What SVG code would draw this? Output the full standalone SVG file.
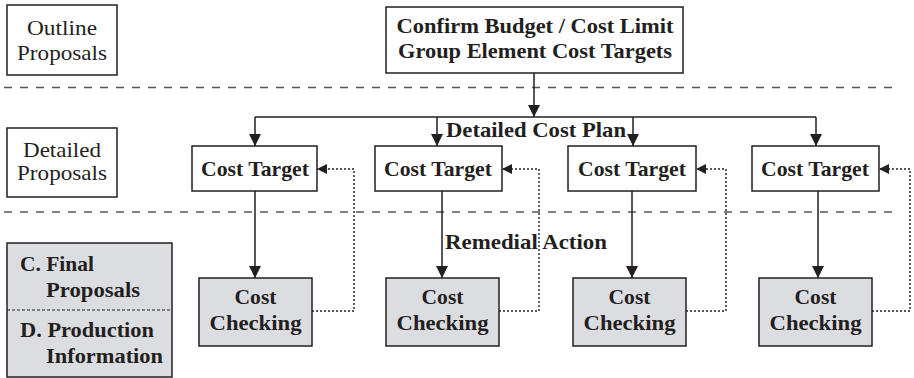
<svg xmlns="http://www.w3.org/2000/svg" width="914" height="378" viewBox="0 0 914 378">
  <defs>
    <marker id="arrow" viewBox="0 0 12 12" refX="12" refY="6" markerWidth="12" markerHeight="12" markerUnits="userSpaceOnUse" orient="auto">
      <path d="M0,0 L12,6 L0,12 z" fill="#231f20"/>
    </marker>
    <marker id="arrow-small" viewBox="0 0 10 10" refX="10" refY="5" markerWidth="10" markerHeight="10" markerUnits="userSpaceOnUse" orient="auto">
      <path d="M0,0 L10,5 L0,10 z" fill="#231f20"/>
    </marker>
  </defs>
  <style>
    .box { fill: #ffffff; stroke: #231f20; stroke-width: 1.5; }
    .grey { fill: #dcdde0; stroke: #231f20; stroke-width: 1.5; }
    .t { font-family: "Liberation Serif", "Times New Roman", serif; font-size: 21px; fill: #231f20; }
    .b { font-weight: bold; }
    .c { text-anchor: middle; }
    .stage { fill: none; stroke: #555555; stroke-width: 1.4; stroke-dasharray: 8 8; }
    .flow { fill: none; stroke: #231f20; stroke-width: 1.5; marker-end: url(#arrow); }
    .bus { fill: none; stroke: #231f20; stroke-width: 1.5; }
    .fb { fill: none; stroke: #231f20; stroke-width: 1.4; stroke-dasharray: 2 2; marker-end: url(#arrow-small); }
  </style>
  <rect width="914" height="378" fill="#ffffff"/>

  <!-- stage separators -->
  <g id="stage-lines">
    <line class="stage" x1="4" y1="87.5" x2="900" y2="87.5"/>
    <line class="stage" x1="4" y1="212" x2="900" y2="212"/>
  </g>

  <!-- stage labels -->
  <g id="stage-outline">
    <rect class="box" x="7" y="5" width="110" height="70"/>
    <text class="t c" x="62" y="35" textLength="70" lengthAdjust="spacingAndGlyphs">Outline</text>
    <text class="t c" x="62" y="60" textLength="90" lengthAdjust="spacingAndGlyphs">Proposals</text>
  </g>
  <g id="stage-detailed">
    <rect class="box" x="7" y="128" width="110" height="69"/>
    <text class="t c" x="62" y="157" textLength="78" lengthAdjust="spacingAndGlyphs">Detailed</text>
    <text class="t c" x="62" y="180" textLength="90" lengthAdjust="spacingAndGlyphs">Proposals</text>
  </g>
  <g id="stage-final">
    <rect class="grey" x="7" y="243" width="165" height="134"/>
    <line x1="7" y1="310" x2="172" y2="310" stroke="#231f20" stroke-width="1.2" stroke-dasharray="3 2"/>
    <text class="t b" x="20" y="271" textLength="74" lengthAdjust="spacingAndGlyphs">C. Final</text>
    <text class="t b" x="46" y="297" textLength="94" lengthAdjust="spacingAndGlyphs">Proposals</text>
    <text class="t b" x="20" y="337" textLength="134" lengthAdjust="spacingAndGlyphs">D. Production</text>
    <text class="t b" x="46" y="363" textLength="117" lengthAdjust="spacingAndGlyphs">Information</text>
  </g>

  <!-- budget node -->
  <g id="budget">
    <rect class="box" x="386" y="7" width="297" height="66"/>
    <text class="t b c" x="535" y="33" textLength="277" lengthAdjust="spacingAndGlyphs">Confirm Budget / Cost Limit</text>
    <text class="t b c" x="535" y="58" textLength="274" lengthAdjust="spacingAndGlyphs">Group Element Cost Targets</text>
  </g>

  <!-- cost targets -->
  <g id="target-1">
    <rect class="box" x="192" y="146" width="125" height="45"/>
    <text class="t b c" x="255" y="176" textLength="108" lengthAdjust="spacingAndGlyphs">Cost Target</text>
  </g>
  <g id="target-2">
    <rect class="box" x="375" y="146" width="127" height="45"/>
    <text class="t b c" x="438" y="176" textLength="108" lengthAdjust="spacingAndGlyphs">Cost Target</text>
  </g>
  <g id="target-3">
    <rect class="box" x="568" y="146" width="128" height="45"/>
    <text class="t b c" x="632" y="176" textLength="108" lengthAdjust="spacingAndGlyphs">Cost Target</text>
  </g>
  <g id="target-4">
    <rect class="box" x="752" y="146" width="127" height="45"/>
    <text class="t b c" x="815" y="176" textLength="108" lengthAdjust="spacingAndGlyphs">Cost Target</text>
  </g>

  <!-- cost checks -->
  <g id="check-1">
    <rect class="grey" x="199" y="278" width="113" height="68"/>
    <text class="t b c" x="255.5" y="304" textLength="42" lengthAdjust="spacingAndGlyphs">Cost</text>
    <text class="t b c" x="255.5" y="330" textLength="92" lengthAdjust="spacingAndGlyphs">Checking</text>
  </g>
  <g id="check-2">
    <rect class="grey" x="386" y="278" width="113" height="68"/>
    <text class="t b c" x="442.5" y="304" textLength="42" lengthAdjust="spacingAndGlyphs">Cost</text>
    <text class="t b c" x="442.5" y="330" textLength="92" lengthAdjust="spacingAndGlyphs">Checking</text>
  </g>
  <g id="check-3">
    <rect class="grey" x="573" y="278" width="113" height="68"/>
    <text class="t b c" x="629.5" y="304" textLength="42" lengthAdjust="spacingAndGlyphs">Cost</text>
    <text class="t b c" x="629.5" y="330" textLength="92" lengthAdjust="spacingAndGlyphs">Checking</text>
  </g>
  <g id="check-4">
    <rect class="grey" x="759" y="278" width="113" height="68"/>
    <text class="t b c" x="815.5" y="304" textLength="42" lengthAdjust="spacingAndGlyphs">Cost</text>
    <text class="t b c" x="815.5" y="330" textLength="92" lengthAdjust="spacingAndGlyphs">Checking</text>
  </g>

  <!-- connectors -->
  <g id="connectors">
    <line class="flow" x1="534" y1="73" x2="534" y2="117"/>
    <line class="bus" x1="255" y1="117" x2="816" y2="117"/>
    <line class="flow" x1="255" y1="117" x2="255" y2="146"/>
    <line class="flow" x1="437" y1="117" x2="437" y2="146"/>
    <line class="flow" x1="633" y1="117" x2="633" y2="146"/>
    <line class="flow" x1="816" y1="117" x2="816" y2="146"/>

    <line class="flow" x1="255" y1="191" x2="255" y2="278"/>
    <line class="flow" x1="442" y1="191" x2="442" y2="278"/>
    <line class="flow" x1="632" y1="191" x2="632" y2="278"/>
    <line class="flow" x1="818" y1="191" x2="818" y2="278"/>

    <polyline class="fb" points="312,311 354,311 354,169 317,169"/>
    <polyline class="fb" points="499,311 539,311 539,169 502,169"/>
    <polyline class="fb" points="686,311 726,311 726,169 696,169"/>
    <polyline class="fb" points="872,311 910,311 910,169 879,169"/>

    <text class="t b" x="446" y="137" textLength="180" lengthAdjust="spacingAndGlyphs">Detailed Cost Plan</text>
    <text class="t b" x="445" y="249" textLength="162" lengthAdjust="spacingAndGlyphs">Remedial Action</text>
  </g>
</svg>
